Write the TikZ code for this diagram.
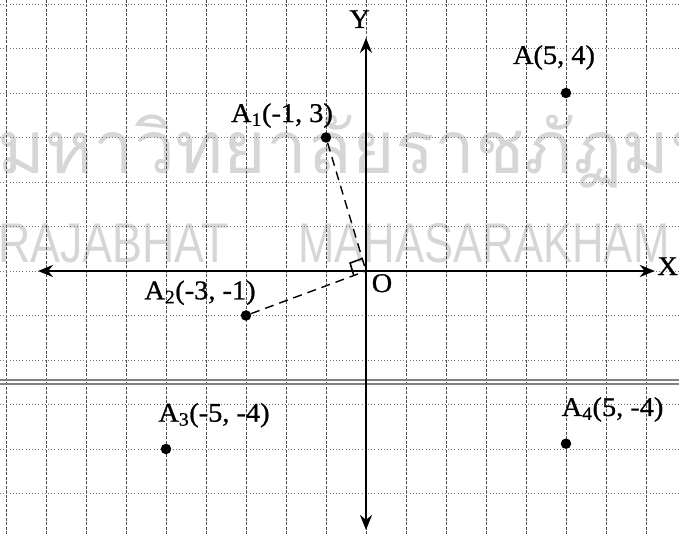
\documentclass[tikz,border=0pt]{standalone}
\usepackage{fontspec}
\setmainfont[FakeBold=0.8]{Liberation Serif}
\newfontfamily\thaifont[Script=Thai]{Loma}
\newfontfamily\wmsans{Liberation Sans}
\usetikzlibrary{arrows.meta,calc}
\begin{document}
\begin{tikzpicture}[x=40pt,y=44.5pt,
  gridv/.style={line width=0.6pt, black!70, dash pattern=on 3pt off 1.5pt},
  gridh/.style={line width=0.6pt, black!55, dash pattern=on 1pt off 2.2pt},
  axisline/.style={line width=2.8pt, {Stealth[length=15pt,width=12pt]}-{Stealth[length=15pt,width=12pt]}},
  dotpt/.style={circle, fill=black, inner sep=0pt, minimum size=10.5pt},
  lbl/.style={font=\fontsize{27}{31}\selectfont, inner sep=0pt, xscale=1.05},
  wm/.style={text=black!16, inner sep=0pt},
  dline/.style={dash pattern=on 9pt off 6pt, line width=1.4pt},
  seamline/.style={line width=2pt, black!50}
]
\useasboundingbox (-9.15,-5.910) rectangle (7.825,6.090);
\begin{scope}
\clip (-9.15,-5.910) rectangle (7.825,6.090);
% watermark
\node[wm, anchor=base west, font=\thaifont\fontsize{73}{80}\selectfont] (wth) at (-9.22,2.2) {มหาวิทยาลัยราชภัฏมหาสารคาม};
\node[wm, anchor=base west, font=\wmsans\fontsize{56}{60}\selectfont, xscale=0.8] (wl1) at (-9.2,0.202) {RAJABHAT};
\node[wm, anchor=base west, font=\wmsans\fontsize{56}{60}\selectfont, xscale=0.78] (wl2) at (-1.7,0.202) {MAHASARAKHAM};
% grid
\foreach \x in {-9,...,7} \draw[gridv] (\x,-5.91) -- (\x,6.09);
\foreach \y in {-5,...,6} \draw[gridh] (-9.15,\y) -- (7.825,\y);
% scan seam
\draw[seamline] (-9.15,-2.449) -- (7.825,-2.449);
\draw[seamline] (-9.15,-2.539) -- (7.825,-2.539);
\end{scope}
% axes
\coordinate (O) at (0,0);
\coordinate (xl) at (-8.2,0);
\coordinate (xr) at (7.22,0);
\coordinate (yt) at (0,5.24);
\coordinate (yb) at (0,-5.82);
\draw[axisline] (xl) -- (xr);
\draw[axisline] (yb) -- (yt);
\node[lbl, anchor=base] (lX) at (7.54,-0.09) {X};
\node[lbl, anchor=base] (lY) at (-0.16,5.461) {Y};
\node[lbl, anchor=base] (lO) at (0.4,-0.472) {O};
% points
\node[dotpt] (A) at (5,4) {};
\node[dotpt] (A1) at (-1,3) {};
\node[dotpt] (A2) at (-3,-1) {};
\node[dotpt] (A3) at (-5,-4) {};
\node[dotpt] (A4) at (5,-3.88) {};
\node[lbl, anchor=base] (lA) at (4.7,4.652) {A(5, 4)};
\node[lbl, anchor=base] (lA1) at (-2.1,3.348) {A\textsubscript{1}(-1, 3)};
\node[lbl, anchor=base] (lA2) at (-4.15,-0.636) {A\textsubscript{2}(-3, -1)};
\node[lbl, anchor=base] (lA3) at (-3.8,-3.386) {A\textsubscript{3}(-5, -4)};
\node[lbl, anchor=base] (lA4) at (6.163,-3.258) {A\textsubscript{4}(5, -4)};
% dashed segments and right angle
\draw[dline] (A1) -- (O);
\draw[dline] (A2) -- (O);
\coordinate (p1) at ($(O)!13pt!(A1)$);
\coordinate (p2) at ($(O)!13pt!(A2)$);
\coordinate (p3) at ($(p1)+(p2)$);
\draw[line width=1.6pt] (p1) -- (p3) -- (p2);
\end{tikzpicture}
\end{document}
